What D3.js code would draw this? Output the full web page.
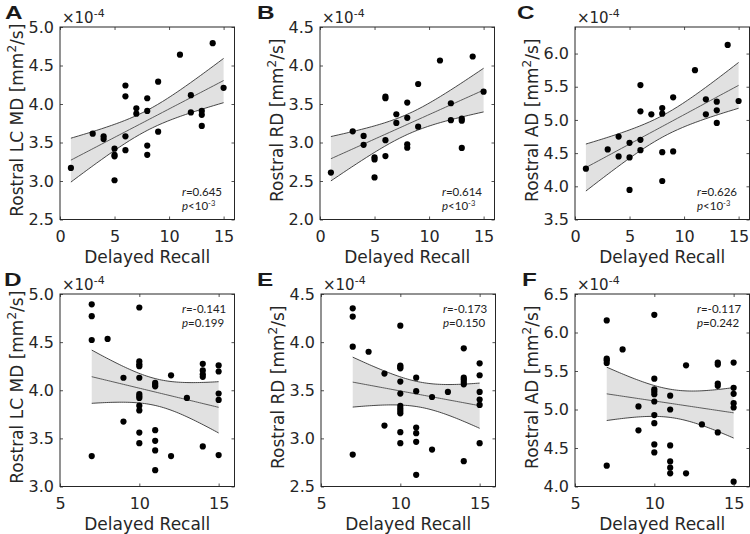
<!DOCTYPE html>
<html><head><meta charset="utf-8">
<script src="https://cdn.jsdelivr.net/npm/d3@7"></script>
<style>body{margin:0;background:#fff}</style>
</head><body><svg id="c" width="750" height="534"></svg>
<script>
// ---------------- data (values in units of 1e-4 mm^2/s) ----------------
const panelLetters = ["A","B","C","D","E","F"];
const yLabelNames = ["Rostral LC MD","Rostral RD","Rostral AD","Rostral LC MD","Rostral RD","Rostral AD"];
const xLabel = "Delayed Recall";
const xTicksTop = [0,5,10,15];
const xTicksBottom = [5,10,15];
const xDomainTop = [0,16];
const xDomainBottom = [5,16];
const yTicksA = [2.5,3.0,3.5,4.0,4.5,5.0];
const yTicksB = [2.0,2.5,3.0,3.5,4.0,4.5];
const yTicksC = [3.5,4.0,4.5,5.0,5.5,6.0];
const yTicksD = [3.0,3.5,4.0,4.5,5.0];
const yTicksE = [2.5,3.0,3.5,4.0,4.5];
const yTicksF = [4.0,4.5,5.0,5.5,6.0,6.5];
const yDomainA = [2.5,5.0], yDomainB = [2.0,4.5], yDomainC = [3.5,6.4];
const yDomainD = [3.0,5.0], yDomainE = [2.5,4.5], yDomainF = [4.0,6.5];
const rValues = ["0.645","0.614","0.626","-0.141","-0.173","-0.117"];
const pValues = ["<10|-3","<10|-3","<10|-3","=0.199","=0.150","=0.242"];

const aX = [1,3,4,4,5,5,5,5,6,6,6,6,7,7,8,8,8,8,9,9,11,12,12,13,13,13,14,15];
const aY = [3.17,3.615,3.58,3.545,3.42,3.34,3.32,3.01,4.24,4.10,3.58,3.40,3.945,3.875,4.075,3.91,3.46,3.34,4.29,3.64,4.64,4.115,3.89,3.91,3.86,3.715,4.79,4.21];

const bX = [1,3,4,4,5,5,5,6,6,6,6,7,7,8,8,8,8,9,9,11,12,12,13,13,13,14,15];
const bY = [2.61,3.145,3.085,2.97,2.807,2.78,2.547,3.596,3.575,3.03,2.824,3.367,3.254,3.518,3.32,2.977,2.932,3.76,3.205,4.065,3.51,3.29,3.31,3.284,2.93,4.117,3.66];

const cX = [1,3,4,4,5,5,5,6,6,6,6,7,8,8,8,8,9,9,11,12,12,13,13,13,14,15];
const cY = [4.265,4.555,4.75,4.45,4.655,4.435,3.945,5.525,5.13,4.70,4.545,5.085,5.18,5.095,4.515,4.08,5.34,4.525,5.75,5.31,5.085,5.275,5.145,4.955,6.13,5.285];

const dX = [7,7,7,7,8,9,9,10,10,10,10,10,10,10,10,10,10,10,10,11,11,11,11,11,11,11,12,12,13,14,14,14,14,14,15,15,15,15,15];
const dY = [4.893,4.77,4.522,3.316,4.533,4.13,3.675,4.86,4.30,4.27,4.25,4.13,3.96,3.94,3.92,3.84,3.79,3.56,3.45,4.076,4.058,4.041,3.585,3.475,3.375,3.17,4.155,3.316,3.92,4.275,4.206,4.165,4.14,3.416,4.258,4.195,3.966,3.90,3.326];

const eX = [7,7,7,7,8,9,9,10,10,10,10,10,10,10,10,10,10,10,10,11,11,11,11,11,11,12,12,13,14,14,14,14,14,14,15,15,15,15,15,15];
const eY = [4.351,4.265,3.953,2.832,3.90,3.673,3.133,4.171,3.756,3.742,3.728,3.59,3.465,3.337,3.31,3.285,3.26,3.064,2.95,3.631,3.49,3.112,3.054,2.964,2.621,3.43,2.884,3.483,3.936,3.631,3.611,3.587,3.562,2.763,3.78,3.656,3.483,3.403,3.348,2.95];

const fX = [7,7,7,7,7,8,9,9,10,10,10,10,10,10,10,10,10,10,11,11,11,11,11,11,12,12,13,14,14,14,14,14,15,15,15,15,15,15];
const fY = [6.157,5.66,5.64,5.605,4.27,5.78,5.04,4.73,6.23,5.40,5.263,5.233,5.199,5.104,4.927,4.823,4.547,4.443,5.18,5.0,4.534,4.326,4.244,4.171,5.574,4.171,4.806,5.609,5.583,5.337,5.307,4.702,5.609,5.281,5.203,5.082,5.026,4.063];

// ---------------- layout ----------------
const boxLeft = [60,320,575];
const rowTop = [27,294];
const boxW = 174.5, boxH = 192.5;
const letterXs = [5,257,517,4,257,522];
const FONT = "'DejaVu Sans', sans-serif";
const INK = "#262626";

const panels = [
  {xs:aX, ys:aY, yDom:yDomainA, yTicks:yTicksA},
  {xs:bX, ys:bY, yDom:yDomainB, yTicks:yTicksB},
  {xs:cX, ys:cY, yDom:yDomainC, yTicks:yTicksC},
  {xs:dX, ys:dY, yDom:yDomainD, yTicks:yTicksD},
  {xs:eX, ys:eY, yDom:yDomainE, yTicks:yTicksE},
  {xs:fX, ys:fY, yDom:yDomainF, yTicks:yTicksF}
];

function tQuantile975(df){
  const z = 1.959964;
  const g1 = (z**3 + z)/4;
  const g2 = (5*z**5 + 16*z**3 + 3*z)/96;
  const g3 = (3*z**7 + 19*z**5 + 17*z**3 - 15*z)/384;
  return z + g1/df + g2/df**2 + g3/df**3;
}
function fitStats(xs, ys){
  const n = xs.length, mx = d3.mean(xs), my = d3.mean(ys);
  let sxx=0, sxy=0;
  for (let i=0;i<n;i++){ sxx += (xs[i]-mx)**2; sxy += (xs[i]-mx)*(ys[i]-my); }
  const b = sxy/sxx, a = my - b*mx;
  let sse = 0;
  for (let i=0;i<n;i++){ sse += (ys[i]-a-b*xs[i])**2; }
  const s = Math.sqrt(sse/(n-2));
  const t = tQuantile975(n-2);
  return {a,b,mx,sxx,s,t,n};
}

const svg = d3.select("#c");

panels.forEach((p, i) => {
  const row = Math.floor(i/3), col = i%3;
  const left = boxLeft[col] + (i===4 ? 1 : 0), top = rowTop[row];
  const xDom = row===0 ? xDomainTop : xDomainBottom;
  const xTicks = row===0 ? xTicksTop : xTicksBottom;
  const x = d3.scaleLinear().domain(xDom).range([0, boxW]);
  const y = d3.scaleLinear().domain(p.yDom).range([boxH, 0]);
  const g = svg.append("g").attr("transform", `translate(${left},${top})`);

  // regression band
  const st = fitStats(p.xs, p.ys);
  const [x0, x1] = d3.extent(p.xs);
  const grid = d3.range(0, 61).map(k => x0 + (x1-x0)*k/60);
  const band = grid.map(v => {
    const yh = st.a + st.b*v;
    const hw = st.t*st.s*Math.sqrt(1/st.n + (v-st.mx)**2/st.sxx);
    return {v, yh, lo: yh-hw, hi: yh+hw};
  });
  g.append("path").datum(band)
    .attr("d", d3.area().x(d=>x(d.v)).y0(d=>y(d.lo)).y1(d=>y(d.hi)))
    .attr("fill", "#e1e1e1").attr("stroke", "none");
  ["lo","hi","yh"].forEach(k => {
    g.append("path").datum(band)
      .attr("d", d3.line().x(d=>x(d.v)).y(d=>y(d[k])))
      .attr("fill","none").attr("stroke", k==="yh" ? "#4d4d4d" : "#333")
      .attr("stroke-width", 0.9);
  });

  // points
  g.append("g").selectAll("circle").data(p.xs.map((v,j)=>[v,p.ys[j]])).join("circle")
    .attr("cx", d=>x(d[0])).attr("cy", d=>y(d[1])).attr("r", 3.1).attr("fill", "#000");

  // axes
  const fmt = d3.format(".1f");
  const ax = [
    d3.axisBottom(x).tickValues(xTicks).tickSize(-3).tickSizeOuter(0).tickPadding(11),
    d3.axisTop(x).tickValues(xTicks).tickSize(-3).tickSizeOuter(0).tickFormat(""),
    d3.axisLeft(y).tickValues(p.yTicks).tickSize(-3).tickSizeOuter(0).tickPadding(6).tickFormat(fmt),
    d3.axisRight(y).tickValues(p.yTicks).tickSize(-3).tickSizeOuter(0).tickFormat("")
  ];
  const pos = [`translate(0,${boxH})`, `translate(0,0)`, `translate(0,0)`, `translate(${boxW},0)`];
  ax.forEach((a, k) => {
    const ag = g.append("g").attr("transform", pos[k]).call(a);
    ag.select(".domain").remove();
    ag.selectAll("line").attr("stroke", INK).attr("stroke-width", 0.8);
    ag.selectAll("text").attr("fill", INK).style("font-family", FONT).style("font-size", "16px");
  });
  g.append("rect").attr("x",0).attr("y",0).attr("width",boxW).attr("height",boxH)
    .attr("fill","none").attr("stroke", INK).attr("stroke-width", 1);

  // x label
  g.append("text").attr("x", boxW/2).attr("y", boxH+43.5).attr("text-anchor","middle")
    .attr("fill", INK).style("font-family", FONT).style("font-size","17px").text(xLabel);

  // y label
  const yl = g.append("text").attr("transform", `translate(-37,${boxH/2 - 3}) rotate(-90)`)
    .attr("text-anchor","middle").attr("fill", INK).style("font-family", FONT).style("font-size","17px");
  yl.append("tspan").text(yLabelNames[i] + " [mm");
  yl.append("tspan").attr("dy", -7).style("font-size","12px").text("2");
  yl.append("tspan").attr("dy", 7).text("/s]");

  // exponent
  const ex = g.append("text").attr("x", 2).attr("y", -4.5).attr("fill", INK)
    .style("font-family", FONT).style("font-size","15px");
  ex.append("tspan").text("\u00d710");
  ex.append("tspan").attr("dy", -6).style("font-size","11px").text("-4");

  // stats
  const sx = 122;
  const ry = row===0 ? boxH-24 : 19;
  const py = row===0 ? boxH-10 : 33;
  const rt = g.append("text").attr("x", sx).attr("y", ry).attr("fill","#222")
    .style("font-family","Lato, sans-serif").style("font-size","11.5px");
  rt.append("tspan").style("font-style","italic").text("r");
  rt.append("tspan").text("=" + rValues[i]);
  const pt = g.append("text").attr("x", sx).attr("y", py).attr("fill","#222")
    .style("font-family","Lato, sans-serif").style("font-size","11.5px");
  pt.append("tspan").style("font-style","italic").text("p");
  const parts = pValues[i].split("|");
  pt.append("tspan").text(parts[0]);
  if (parts[1]) pt.append("tspan").attr("dy",-3.5).style("font-size","7.5px").text(parts[1]);

  // panel letter
  svg.append("text").attr("x", 0).attr("y", 0)
    .attr("transform", `translate(${letterXs[i]},${top - 8}) scale(1.35,1)`)
    .attr("fill","#1a1a1a").style("font-family","'Liberation Sans', Arial, sans-serif")
    .style("font-weight","bold").style("font-size","18px").text(panelLetters[i]);
});
</script>
</body></html>
